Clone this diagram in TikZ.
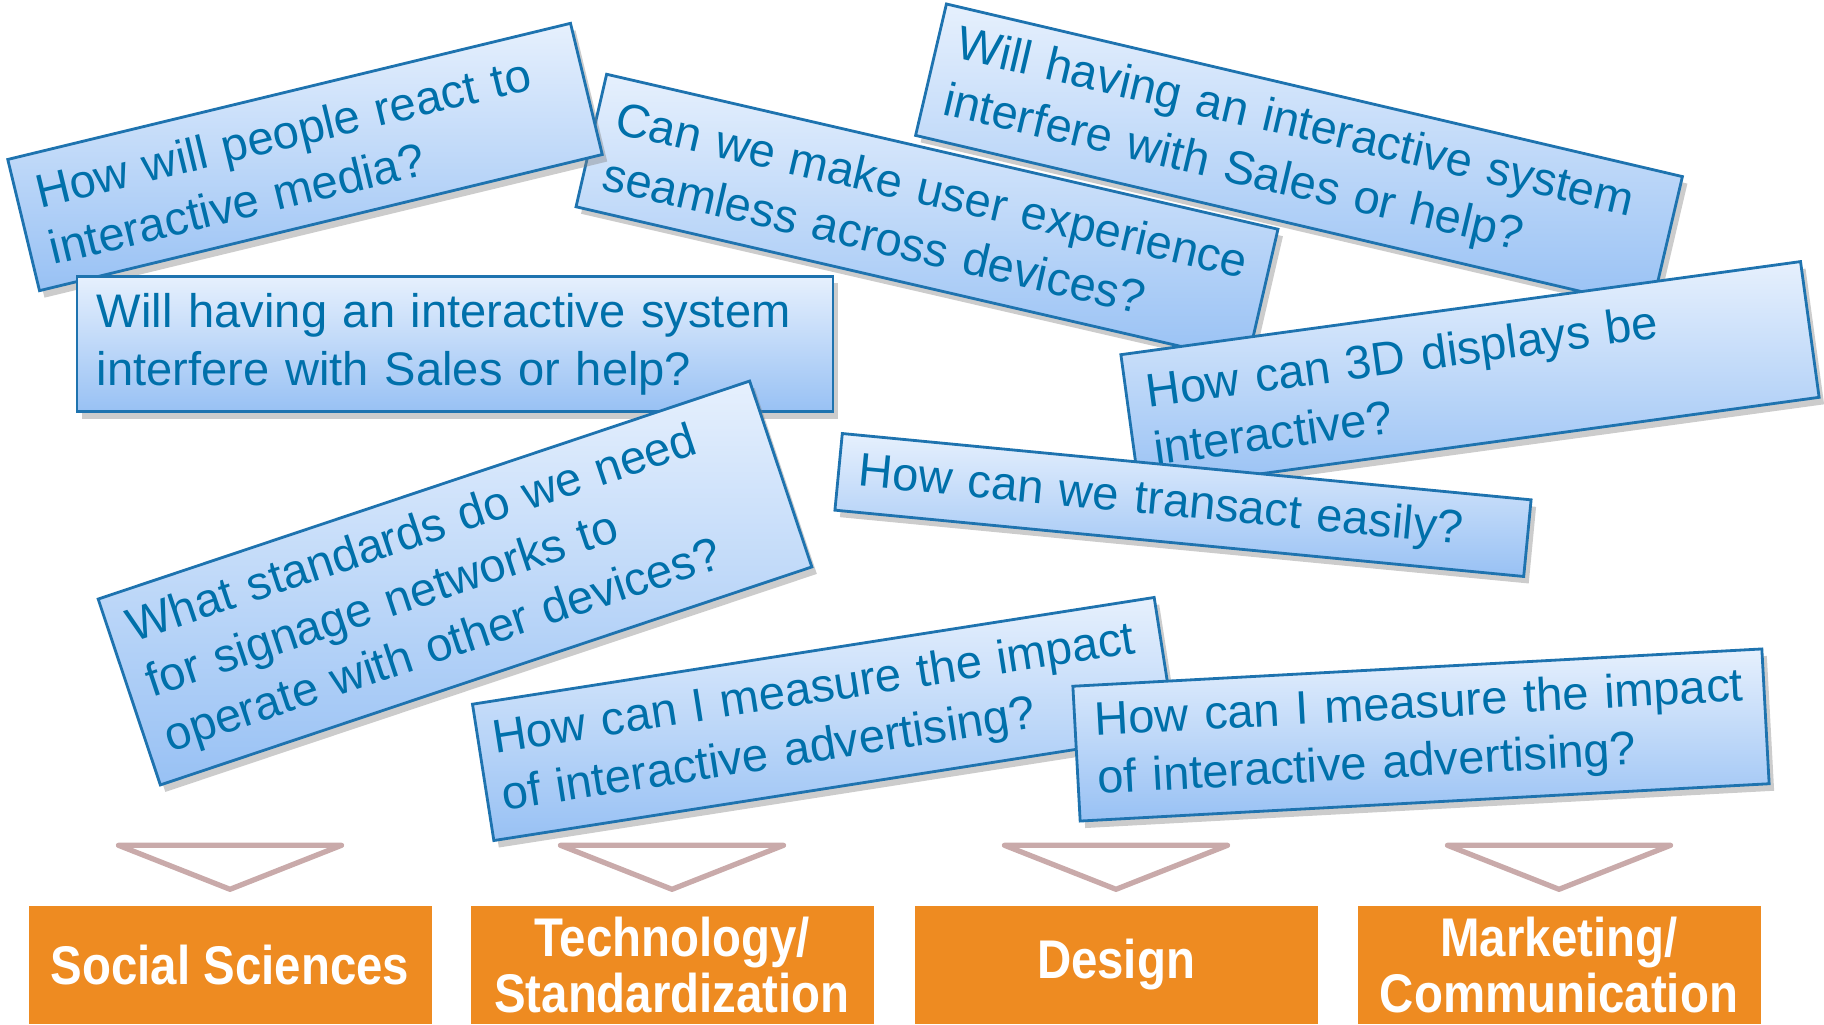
\documentclass[tikz,border=0pt]{standalone}
\usepackage{fontspec}
\setmainfont{Liberation Sans}
\newfontfamily\catfont{Liberation Sans}[FakeStretch=0.87]
\usetikzlibrary{shadows}
\hyphenpenalty=10000

\definecolor{qtext}{RGB}{0,112,170}
\definecolor{qedge}{RGB}{30,115,175}
\definecolor{qtop}{RGB}{230,240,253}
\definecolor{qbottom}{RGB}{152,193,244}
\definecolor{catorange}{RGB}{238,139,33}
\definecolor{funnelgray}{RGB}{201,170,170}

\begin{document}
\begin{tikzpicture}

  % Define styles
  \tikzstyle{q_box} = [rectangle, draw=qedge, line width=0.8pt, top color=qtop, bottom color=qbottom, text=qtext, align=left, inner xsep=0.2cm, font=\fontsize{13.4}{16.5}\selectfont, drop shadow={shadow xshift=0.5mm, shadow yshift=-0.7mm, opacity=0.4}]
  \tikzstyle{cat_box} = [rectangle, fill=catorange, text=white, align=center, inner ysep=0pt, minimum width=4.03cm, minimum height=1.18cm, font=\catfont\bfseries\fontsize{15.5}{16}\selectfont]
  \tikzstyle{funnel_line} = [draw=funnelgray, line width=1.5pt, line join=round]

  \useasboundingbox (0,0) rectangle (18.24,10.24);

  % Questions (back to front)
  \node[q_box, rotate=-13.0, text width=6.49cm, minimum height=1.36cm] (seamless) at (9.27, 8.06) {Can we make user experience\\seamless across devices?};
  \node[q_box, rotate=13.6, text width=5.39cm, minimum height=1.35cm] (react) at (3.05, 8.67) {How will people react to\\interactive media?};
  \node[q_box, text width=7.16cm, minimum height=1.35cm] (sales) at (4.55, 6.80) {Will having an interactive system\\interfere with Sales or help?};
  \node[q_box, rotate=-13.2, text width=7.16cm, minimum height=1.35cm] (sales2) at (12.99, 8.68) {Will having an interactive system\\interfere with Sales or help?};
  \node[q_box, rotate=7.8, text width=6.46cm, minimum height=1.37cm] (displays) at (14.70, 6.48) {How can 3D displays be\\interactive?};
  \node[q_box, rotate=-5.5, text width=6.52cm, minimum height=0.77cm] (transact) at (11.83, 5.19) {How can we transact easily?};
  \node[q_box, rotate=18.5, text width=6.47cm, minimum height=1.96cm] (standards) at (4.55, 4.41) {What standards do we need\\for signage networks to\\operate with other devices?};
  \node[q_box, rotate=8.9, inner xsep=0.15cm, text width=6.60cm, minimum height=1.38cm] (impact) at (8.24, 3.05) {How can I measure the impact\\of interactive advertising?};
  \node[q_box, rotate=3.1, text width=6.50cm, minimum height=1.35cm] (impact2) at (14.21, 2.89) {How can I measure the impact\\of interactive advertising?};

  % Categories
  \node[cat_box] (social) at (2.30, 0.59) {Social Sciences};
  \node[cat_box] (tech) at (6.72, 0.59) {Technology/\\Standardization};
  \node[cat_box] (design) at (11.16, 0.59) {Design};
  \node[cat_box] (marketing) at (15.59, 0.59) {Marketing/\\Communication};

  % Funnels above categories
  \foreach \cat in {social, tech, design, marketing}
    \draw[funnel_line] ([xshift=-1.115cm, yshift=0.6cm]\cat.north) -- ([xshift=1.115cm, yshift=0.6cm]\cat.north) -- ([yshift=0.16cm]\cat.north) -- cycle;

\end{tikzpicture}
\end{document}
